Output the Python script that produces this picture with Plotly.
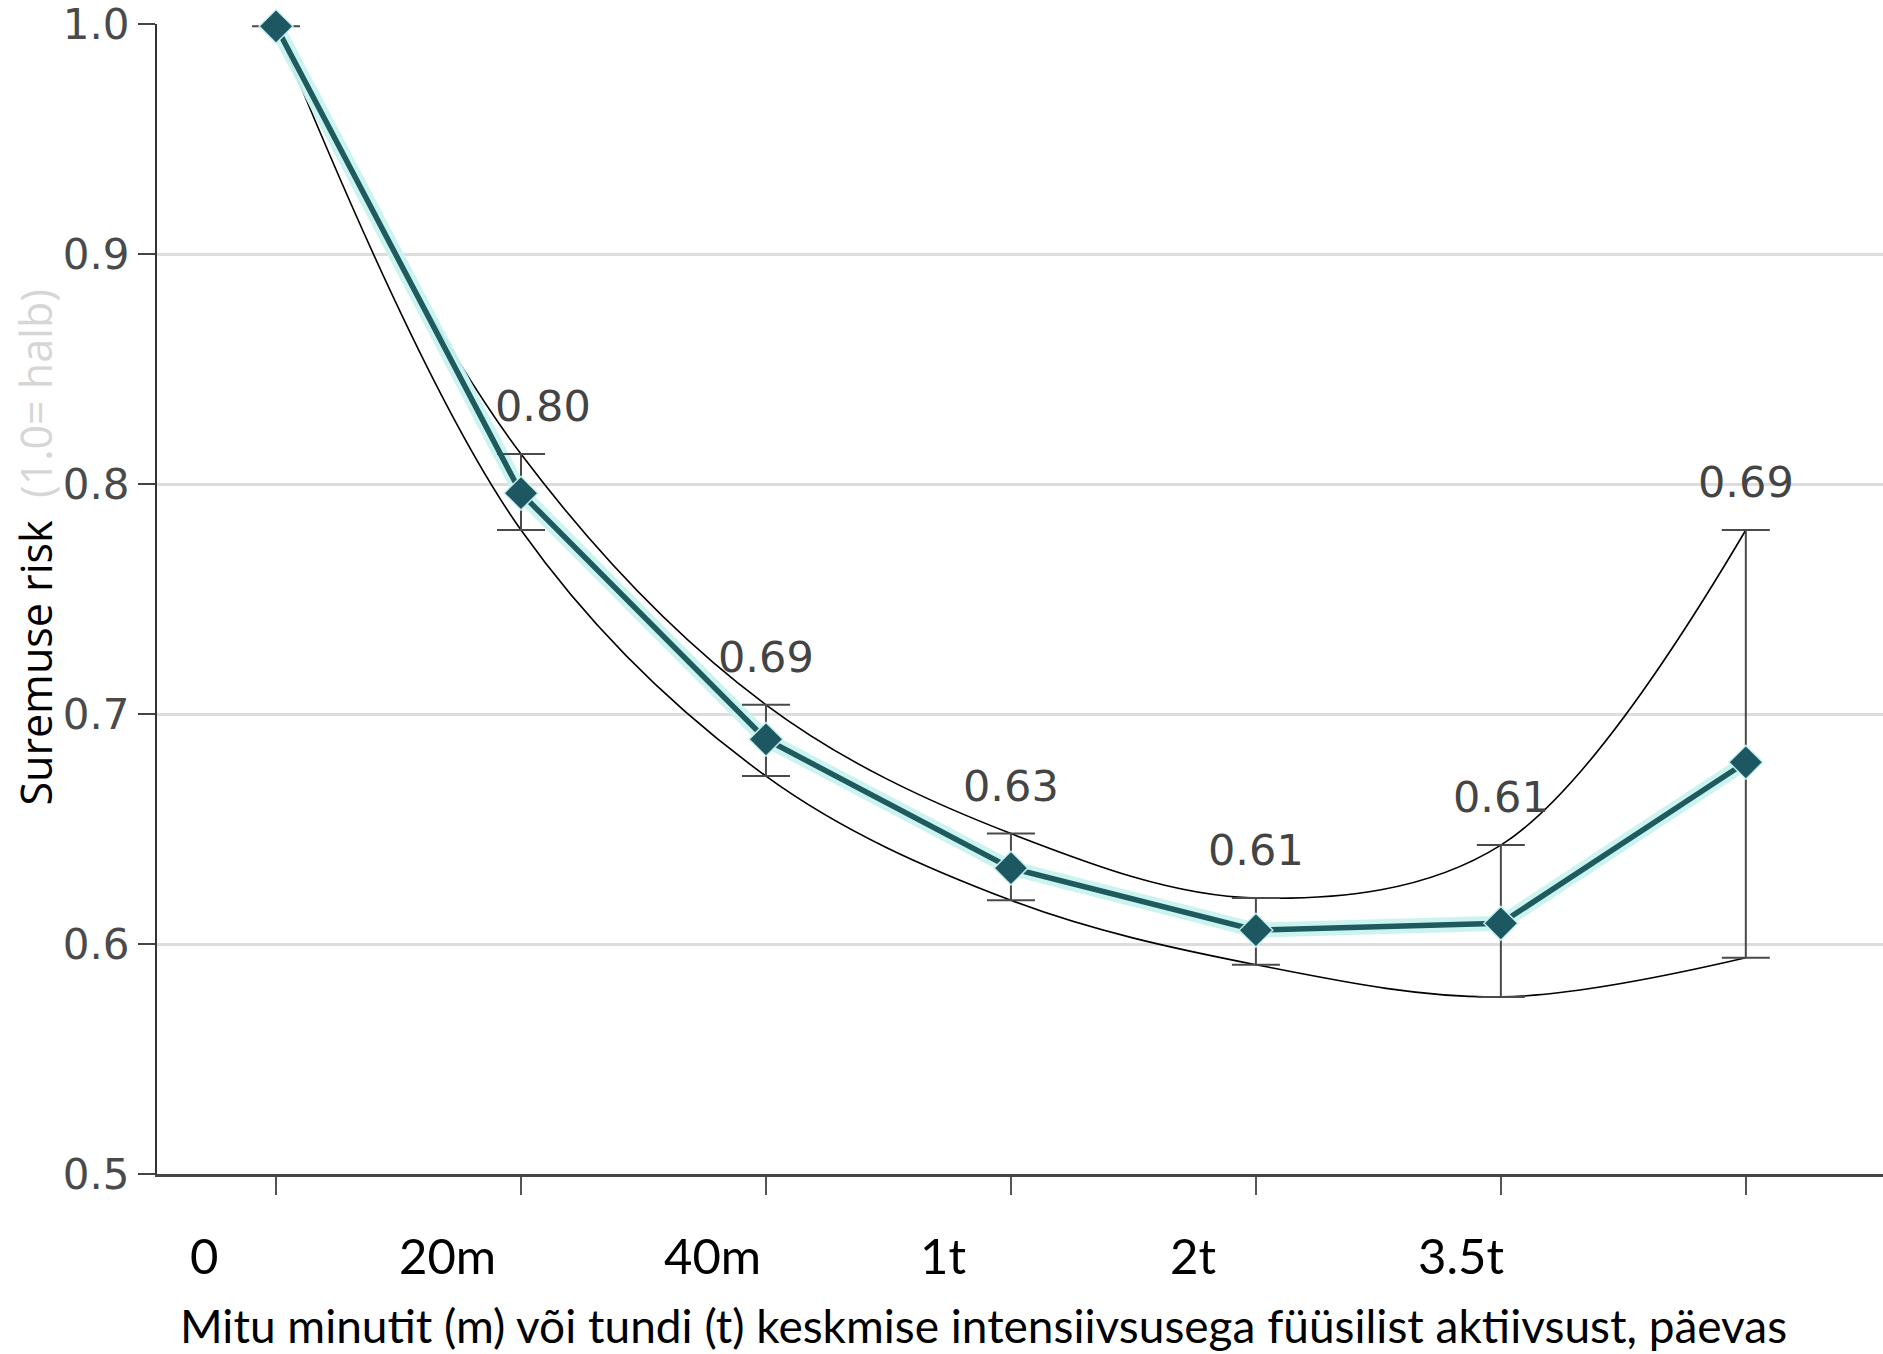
import plotly.graph_objects as go

# ---- data ----
x_idx = [0, 1, 2, 3, 4, 5, 6]
risk = [0.999, 0.796, 0.689, 0.633, 0.606, 0.609, 0.679]
upper = [0.999, 0.813, 0.704, 0.648, 0.620, 0.643, 0.780]
lower = [0.999, 0.780, 0.673, 0.619, 0.591, 0.577, 0.594]
value_labels = ["", "0.80", "0.69", "0.63", "0.61", "0.61", "0.69"]
tick_labels = ["0", "20m", "40m", "1t", "2t", "3.5t"]
tick_label_shift = [-72, -74, -53, -68, -63, -40]
y_ticks = [0.5, 0.6, 0.7, 0.8, 0.9, 1.0]

LINE_C = "#1f5a5e"
MARK_C = "#1d5862"
HALO_C = "rgba(200,243,240,0.95)"

fig = go.Figure()

# confidence curves
for band in (upper, lower):
    fig.add_trace(go.Scatter(x=x_idx, y=band, mode="lines",
                             line=dict(color="black", width=1.6, shape="spline", smoothing=1.0),
                             hoverinfo="skip", cliponaxis=False))
# halo
fig.add_trace(go.Scatter(x=x_idx, y=risk, mode="lines",
                         line=dict(color=HALO_C, width=15),
                         hoverinfo="skip", cliponaxis=False))
# main line with error bars
fig.add_trace(go.Scatter(
    x=x_idx, y=risk, mode="lines+markers",
    line=dict(color=LINE_C, width=5.5),
    marker=dict(symbol="diamond", size=26, color=MARK_C,
                line=dict(color=HALO_C, width=1.5)),
    error_y=dict(type="data", symmetric=False,
                 array=[u - r for u, r in zip(upper, risk)],
                 arrayminus=[r - l for r, l in zip(risk, lower)],
                 color="#4a4a4a", thickness=2, width=24),
    cliponaxis=False,
))

annotations = []
for i, (xv, uv, lab) in enumerate(zip(x_idx, upper, value_labels)):
    if lab:
        annotations.append(dict(x=xv, y=uv, xref="x", yref="y", text=lab, showarrow=False,
                                yanchor="middle", yshift=48, xshift=22 if i == 1 else 0,
                                font=dict(family="DejaVu Sans", size=43, color="#444444")))
for i, (lab, sh) in enumerate(zip(tick_labels, tick_label_shift)):
    annotations.append(dict(x=x_idx[i], y=0, xref="x", yref="paper", text=lab, showarrow=False,
                            yanchor="middle", yshift=-81, xshift=sh,
                            font=dict(family="Lato", size=49, color="black")))
annotations.append(dict(
    x=0.479, y=0, xref="paper", yref="paper", yanchor="middle", yshift=-151,
    text="Mitu minutit (m) või tundi (t) keskmise intensiivsusega füüsilist aktiivsust, päevas",
    showarrow=False, font=dict(family="Lato", size=46, color="black")))
annotations.append(dict(
    x=-0.0705, y=0.545, xref="paper", yref="paper", textangle=-90,
    xanchor="center", yanchor="middle",
    text="Suremuse risk <span style='color:#d6d6d6'> (1.0= halb)</span>",
    showarrow=False, font=dict(family="Open Sans", size=43, color="black")))

fig.update_layout(
    width=1883, height=1354,
    margin=dict(l=157, r=0, t=21, b=180),
    paper_bgcolor="white", plot_bgcolor="white",
    showlegend=False,
    annotations=annotations,
    xaxis=dict(range=[-0.486, 6.56], tickvals=x_idx, ticktext=[""] * len(x_idx),
               ticks="outside", ticklen=18, tickwidth=2, tickcolor="#555555",
               showgrid=False, zeroline=False, showline=True, linecolor="#444444", linewidth=3),
    yaxis=dict(range=[0.5, 1.0], tickvals=y_ticks, ticktext=[f"{v:.1f}" for v in y_ticks],
               ticks="outside", ticklen=17, tickwidth=2, tickcolor="#444444",
               tickfont=dict(family="DejaVu Sans", size=42, color="#4a4a4a"),
               ticklabeloverflow="allow",
               showgrid=True, gridcolor="#dddddd", gridwidth=3,
               zeroline=False, showline=True, linecolor="#333333", linewidth=2),
)

fig.write_html("out.html", config={"displayModeBar": False},
               post_script="document.body.style.margin='0';document.body.style.overflow='hidden';")
